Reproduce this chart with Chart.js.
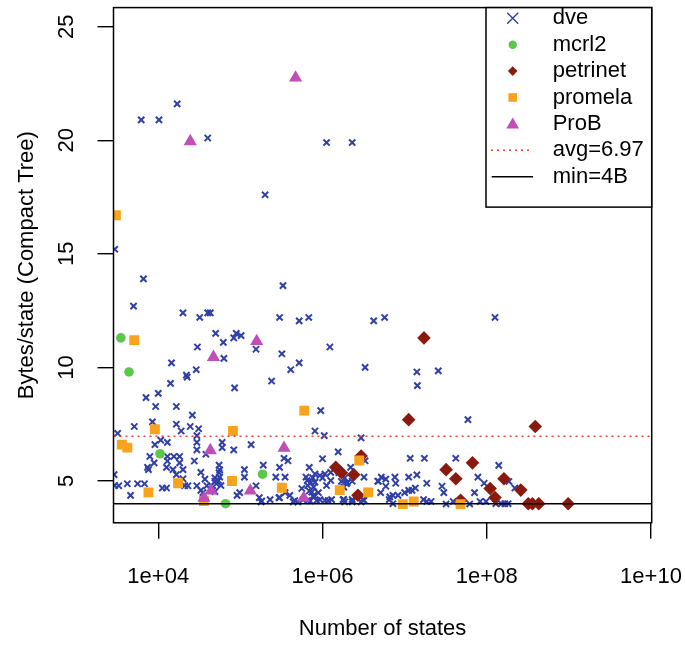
<!DOCTYPE html>
<html><head><meta charset="utf-8">
<script src="https://cdn.jsdelivr.net/npm/chart.js@4.4.1/dist/chart.umd.min.js"></script>
<style>html,body{margin:0;padding:0;background:#fff;}canvas{display:block;}</style>
</head><body>
<canvas id="c" width="685" height="645"></canvas>
<script>
// ---- data ----
const dveStates = [1.7e4,6.2e3,1.02e4,4.0e4,2.0e5,1.12e6,2.3e6,2.95e3,4.2e6,5.7e6,1.26e8,1.41e7,2.57e7,1.43e7,5.9e7,6.6e3,3.3e5,5.0e3,2.0e4,3.2e4,4.0e4,4.3e4,3.0e5,5.2e5,6.8e5,5.0e4,8.9e4,8.3e4,1.02e5,1.55e5,6.2e4,3.0e4,6.3e4,3.2e5,1.23e6,5.2e5,4.1e5,3.3e6,1.45e4,2.9e4,2.2e4,2.25e4,1.41e4,2.4e5,8.5e4,1.0e4,7.1e3,9.3e3,1.66e4,2.6e4,9.5e5,5.1e3,8.5e3,1.66e4,2.45e4,3.1e4,1.9e4,8.1e5,1.05e6,2.95e6,3.2e3,2.95e4,2.95e4,2.95e4,1.07e4,9.1e3,1.29e4,6.0e4,6.0e4,1.35e5,8.3e4,7.9e3,8.9e3,1.29e4,1.55e4,1.82e4,1.29e4,1.82e4,1.51e4,1.26e4,7.4e3,7.6e3,2.75e4,2.0e4,3.8e4,5.5e4,3.3e4,4.9e4,5.5e4,3.7e4,1.12e5,1.12e5,1.9e5,3.0e5,2.7e5,3.5e5,3.8e5,3.4e5,6.9e5,1.0e6,1.55e6,8.1e5,9.3e5,1.07e6,1.26e6,7.6e5,1.0e6,1.26e6,6.5e5,7.2e5,5.6e5,7.8e5,6.9e5,8.9e5,7.8e5,9.3e5,1.58e6,1.86e6,2.0e6,1.82e6,2.3e6,3.2e6,4.7e6,1.82e6,2.3e6,3.1e6,7.1e5,5.8e5,4.4e5,5.0e5,2.3e5,1.7e5,1.78e5,3.3e3,4.2e3,5.6e3,6.8e3,4.6e3,1.12e4,1.26e4,2.1e4,2.3e4,2.0e4,1.66e4,2.95e4,3.9e4,3.3e4,3.5e4,4.9e4,5.1e4,5.6e4,9.1e4,9.8e4,1.55e5,3.0e5,3.5e5,2.9e3,2.95e3,5.2e6,5.9e6,4.8e6,7.6e6,7.8e6,1.12e7,1.41e7,1.86e7,5.1e6,5.9e6,6.6e6,7.2e6,8.3e6,1.0e7,1.12e7,1.23e7,1.35e7,1.7e7,1.86e7,2.1e7,2.85e7,3.0e7,3.2e7,3.9e7,6.2e7,7.1e7,7.8e7,9.3e7,8.3e7,9.8e7,1.29e8,1.51e8,1.66e8,1.82e8,2.2e8,1.86e8,7.2e6,6.5e6,1.17e7,1.74e7,4.2e7,1.4e8,1.82e5,2.95e5,4.0e5,4.6e5,6.6e5,8.5e5,1.07e6,1.17e6,6.3e5,8.1e5,6.6e5,7.4e5,1.12e6,7.8e5,2.2e6,1.7e6,1.95e6,1.29e6,1.78e6,1.86e6,2.3e6,2.95e6,3.2e6,3.3e6,5.6e4,4.4e4,4.6e4,5.4e4,5.8e4,4.9e4];
const dveBytes = [21.6,20.9,20.9,20.1,17.6,19.9,19.9,15.2,12.05,12.2,12.2,9.8,9.85,9.2,7.7,13.9,13.6,12.7,12.4,12.2,12.4,12.4,12.2,12.05,12.2,11.5,11.5,11.3,11.4,10.8,11.1,10.9,10.4,10.6,10.9,10.2,9.9,10.0,10.2,9.9,9.66,9.57,9.3,9.4,9.1,8.86,8.67,8.28,8.28,7.9,8.1,7.4,7.6,7.5,7.4,7.3,7.2,7.2,7.0,6.9,7.1,7.0,6.7,6.37,6.8,6.6,6.7,6.7,6.47,6.6,6.37,6.08,5.8,6.08,6.08,6.08,5.88,5.8,5.5,5.6,5.6,5.5,5.88,5.5,6.18,5.7,5.38,5.14,5.37,5.08,5.5,5.17,5.7,5.6,5.17,5.17,5.89,6.0,5.6,5.98,6.28,5.31,5.24,5.31,5.38,5.14,5.14,5.02,5.02,4.93,4.67,4.73,4.56,4.49,4.3,4.18,5.37,5.14,4.93,4.73,4.99,5.17,4.99,4.18,4.18,4.18,4.12,4.18,4.08,4.08,4.18,4.27,4.08,4.79,4.88,4.88,4.88,4.37,4.69,4.69,4.79,4.79,5.1,5.28,4.79,4.79,4.59,4.49,4.99,4.88,5.17,4.37,4.49,4.79,4.27,4.49,5.28,4.8,5.17,5.08,4.99,5.17,4.9,5.17,5.27,4.9,4.49,4.77,4.3,4.37,4.37,4.49,4.59,4.59,4.69,4.18,4.1,4.1,4.77,4.49,3.99,4.1,3.99,4.49,5.17,4.9,4.1,4.1,4.0,4.0,4.0,4.0,4.69,4.98,4.0,4.18,6.0,6.0,6.0,5.69,4.12,4.27,4.37,4.14,4.14,4.14,4.14,4.14,5.17,4.95,4.8,4.51,4.8,4.37,5.6,4.98,4.88,4.18,4.18,4.08,4.08,4.08,4.15,5.89,5.49,4.8,4.59,5.02,4.8,4.53];

const mcrl2States = [3.5e3,4.4e3,1.05e4,1.86e5,6.6e4];
const mcrl2Bytes  = [11.3,9.8,6.2,5.3,4.0];

const petrinetStates = [1.72e7,1.12e7,3.9e8,6.7e7,3.2e7,4.2e7,1.62e8,2.6e8,1.1e8,1.26e8,3.2e8,3.6e8,4.3e8,9.8e8,2.95e6,1.45e6,1.7e6,2.4e6,2.7e6,4.8e7];
const petrinetBytes  = [11.3,7.7,7.4,5.8,5.5,5.1,5.1,4.6,4.67,4.27,4.0,4.0,4.0,4.0,6.1,5.6,5.36,5.28,4.37,4.15];

const promelaStates = [3.05e3,5.1e3,9.1e3,3.6e3,4.2e3,7.6e3,1.74e4,8.1e4,7.9e4,3.2e5,6.0e5,2.8e6,1.62e6,3.6e6,9.5e6,1.29e7,4.8e7,3.6e4];
const promelaBytes  = [16.7,11.2,7.28,6.6,6.47,4.5,4.9,7.2,5.0,4.7,8.1,5.9,4.6,4.5,3.98,4.1,3.98,4.12];

const probStates = [2.45e4,4.7e5,1.58e5,4.7e4,4.3e4,3.4e5,4.4e4,3.6e4,1.32e5,5.9e5];
const probBytes  = [19.95,22.75,11.15,10.45,6.35,6.45,4.57,4.25,4.57,4.25];

const avgValue = 6.97;
const minValue = 4;
const seriesNames = ['dve','mcrl2','petrinet','promela','ProB'];
const lineNames = ['avg=6.97','min=4B'];

const xTickValues = [1e4,1e6,1e8,1e10];
const xTickLabels = ['1e+04','1e+06','1e+08','1e+10'];
const yTickValues = [5,10,15,20,25];
const xRange = [2.85e3, 1.02e10];
const yRange = [3.16, 25.84];

// ---- styles ----
const FONT = '"Liberation Sans", Arial, Helvetica, sans-serif';
const FS = 22;
const COLORS = {dve:'#3040A8', mcrl2:'#5CC84A', petrinet:'#8B1A0E', promela:'#F8A21E', ProB:'#C04DB8', avg:'#E8443A', min:'#000000'};

function pts(xs, ys){ return xs.map((x,i)=>({x:x, y:ys[i]})); }

const whiteBg = {
  id:'whiteBg',
  beforeDraw(chart){ const c=chart.ctx; c.save(); c.fillStyle='#fff'; c.fillRect(0,0,chart.width,chart.height); c.restore(); }
};
const frame = {
  id:'frame',
  afterDraw(chart){
    const a=chart.chartArea, c=chart.ctx;
    c.save(); c.strokeStyle='#000'; c.lineWidth=1.5;
    c.strokeRect(a.left, a.top, a.right-a.left, a.bottom-a.top);
    // legend box at the top-right corner of the plot
    const lx=486, ly=a.top, lw=a.right-486, lh=199.5;
    c.fillStyle='#fff'; c.fillRect(lx,ly,lw,lh);
    c.strokeRect(lx,ly,lw,lh);
    const sx=512.7, tx=552.7, y0=18.3, dy=26.4;
    c.font = FS+'px '+FONT; c.textBaseline='middle'; c.textAlign='left';
    const labels = seriesNames.concat(lineNames);
    labels.forEach((lab,i)=>{
      const y=y0+dy*i;
      c.save();
      if(i===0){ c.strokeStyle=COLORS.dve; c.lineWidth=1.4; c.beginPath(); c.moveTo(sx-5.5,y-5.5); c.lineTo(sx+5.5,y+5.5); c.moveTo(sx+5.5,y-5.5); c.lineTo(sx-5.5,y+5.5); c.stroke(); }
      else if(i===1){ c.fillStyle=COLORS.mcrl2; c.beginPath(); c.arc(sx,y,4.2,0,Math.PI*2); c.fill(); }
      else if(i===2){ c.fillStyle=COLORS.petrinet; c.beginPath(); c.moveTo(sx,y-4.8); c.lineTo(sx+4.8,y); c.lineTo(sx,y+4.8); c.lineTo(sx-4.8,y); c.closePath(); c.fill(); }
      else if(i===3){ c.fillStyle=COLORS.promela; c.fillRect(sx-4.3,y-4.3,8.6,8.6); }
      else if(i===4){ c.fillStyle=COLORS.ProB; c.beginPath(); c.moveTo(sx,y-6.5); c.lineTo(sx+6.4,y+4.6); c.lineTo(sx-6.4,y+4.6); c.closePath(); c.fill(); }
      else if(i===5){ c.strokeStyle=COLORS.avg; c.lineWidth=1.5; c.setLineDash([2,4]); c.beginPath(); c.moveTo(491,y); c.lineTo(531,y); c.stroke(); }
      else { c.strokeStyle='#000'; c.lineWidth=1.5; c.beginPath(); c.moveTo(491.7,y); c.lineTo(533,y); c.stroke(); }
      c.restore();
      c.fillStyle='#000'; c.fillText(lab, tx, y);
    });
    c.restore();
  }
};

const tickGrid = {display:true, drawOnChartArea:false, drawTicks:true, tickLength:16, tickColor:'#000', lineWidth:1.4};

new Chart(document.getElementById('c'), {
  type:'scatter',
  data:{ datasets:[
    {type:'line', label:lineNames[0], data:[{x:xRange[0],y:avgValue},{x:xRange[1],y:avgValue}], borderColor:COLORS.avg, borderWidth:1.6, borderDash:[2,4], pointRadius:0, order:0, clip:0},
    {type:'line', label:lineNames[1], data:[{x:xRange[0],y:minValue},{x:xRange[1],y:minValue}], borderColor:'#000', borderWidth:1.5, pointRadius:0, order:0, clip:0},
    {label:seriesNames[4], data:pts(probStates,probBytes), pointStyle:'triangle', pointRadius:7.6, backgroundColor:COLORS.ProB, borderColor:COLORS.ProB, borderWidth:0, order:1, clip:0},
    {label:seriesNames[3], data:pts(promelaStates,promelaBytes), pointStyle:'rect', pointRadius:7, backgroundColor:COLORS.promela, borderColor:COLORS.promela, borderWidth:0, order:2, clip:0},
    {label:seriesNames[2], data:pts(petrinetStates,petrinetBytes), pointStyle:'rectRot', pointRadius:6.8, backgroundColor:COLORS.petrinet, borderColor:COLORS.petrinet, borderWidth:0, order:3, clip:0},
    {label:seriesNames[1], data:pts(mcrl2States,mcrl2Bytes), pointStyle:'circle', pointRadius:4.8, backgroundColor:COLORS.mcrl2, borderColor:COLORS.mcrl2, borderWidth:0, order:4, clip:0},
    {label:seriesNames[0], data:pts(dveStates,dveBytes), pointStyle:'crossRot', pointRadius:4.4, backgroundColor:COLORS.dve, borderColor:COLORS.dve, borderWidth:2, order:5, clip:0}
  ]},
  options:{
    responsive:false, animation:false, devicePixelRatio:1,
    layout:{padding:{top:2.5, right:33.3, left:0, bottom:0}},
    plugins:{legend:{display:false}, tooltip:{enabled:false}},
    scales:{
      x:{
        type:'logarithmic', position:'bottom', min:xRange[0], max:xRange[1],
        afterBuildTicks:s=>{ s.ticks = xTickValues.map(v=>({value:v})); },
        afterFit:s=>{ s.height = 645-522.8; s.paddingLeft=0; s.paddingRight=0; },
        grid:tickGrid, border:{display:false},
        ticks:{color:'#000', font:{family:FONT, size:FS}, padding:24.5, maxRotation:0, minRotation:0, autoSkip:false,
               callback:(v,i)=>xTickLabels[i]},
        title:{display:true, text:'Number of states', color:'#000', font:{family:FONT, size:FS}, padding:{top:0,bottom:2.8}}
      },
      y:{
        type:'linear', position:'left', min:yRange[0], max:yRange[1],
        afterBuildTicks:s=>{ s.ticks = yTickValues.map(v=>({value:v})); },
        afterFit:s=>{ s.width = 113.5; s.paddingTop=0; s.paddingBottom=0; },
        grid:tickGrid, border:{display:false},
        ticks:{color:'#000', font:{family:FONT, size:FS}, padding:18.3, minRotation:90, maxRotation:90, crossAlign:'center', autoSkip:false,
               callback:v=>String(v)},
        title:{display:true, text:'Bytes/state (Compact Tree)', color:'#000', font:{family:FONT, size:FS}, padding:{top:13.8,bottom:0}}
      }
    }
  },
  plugins:[whiteBg, frame]
});
</script>
</body></html>
